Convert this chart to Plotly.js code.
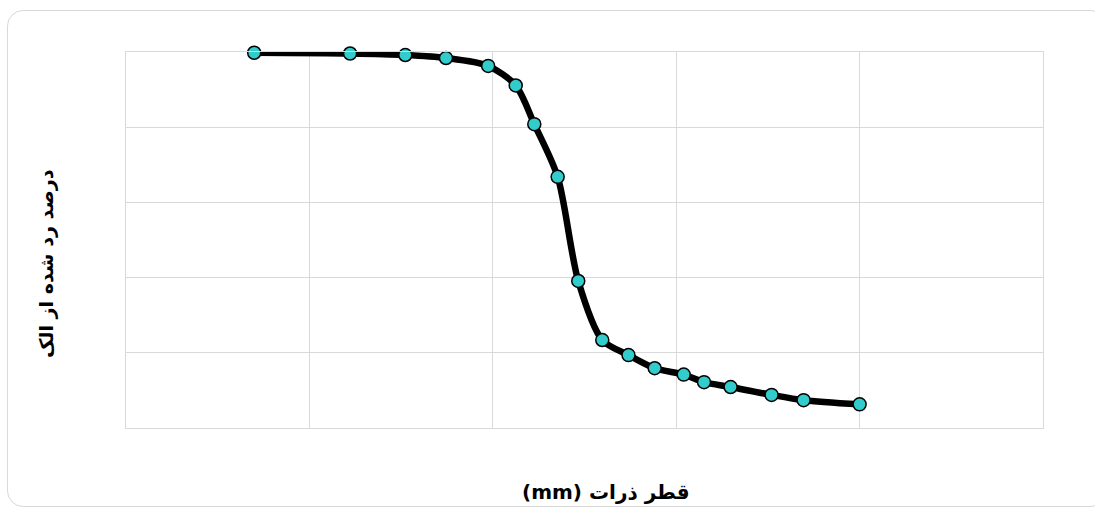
<!DOCTYPE html>
<html>
<head>
<meta charset="utf-8">
<script src="https://cdn.plot.ly/plotly-3.0.1.min.js"></script>
<style>
  html, body { margin: 0; padding: 0; background: #ffffff; }
  #wrap { position: relative; width: 1095px; height: 510px; overflow: hidden; }
  #frame { position: absolute; left: 7px; top: 10px; width: 1100px; height: 497px;
           border: 1px solid #d9d9d9; border-radius: 16px; box-sizing: border-box; pointer-events: none; }
  #chart { position: absolute; left: 0; top: 0; width: 1095px; height: 510px; }
</style>
</head>
<body>
<div id="wrap">
  <div id="frame"></div>
  <div id="chart"></div>
</div>
<script>
// Grain diameter (mm) and percent passing
const diameterMm = [2.0, 0.6, 0.3, 0.18, 0.106, 0.075, 0.0594, 0.0443, 0.0342, 0.0253,
                    0.0182, 0.0131, 0.0091, 0.00705, 0.00505, 0.00302, 0.00202, 0.001];
const percentPassing = [99.8, 99.6, 99.2, 98.4, 96.3, 91.1, 80.8, 66.8, 39.1, 23.4,
                        19.4, 15.9, 14.2, 12.2, 10.9, 8.8, 7.4, 6.3];
const xTitleFa = 'قطر ذرات';
const xTitleUnit = '(mm)';
const yTitle = 'درصد رد شده از الک';

const rtl = s => '\u202B' + s + '\u202C';

const trace = {
  x: diameterMm,
  y: percentPassing,
  type: 'scatter',
  mode: 'lines+markers',
  line: { color: '#000000', width: 6.5, shape: 'spline', smoothing: 0.8 },
  marker: { color: '#33cccc', size: 13, line: { color: '#000000', width: 1.5 } },
  cliponaxis: false,
  hoverinfo: 'x+y'
};

const layout = {
  width: 1095, height: 510,
  margin: { l: 126, r: 52, t: 52, b: 82 },
  paper_bgcolor: 'rgba(0,0,0,0)',
  plot_bgcolor: '#ffffff',
  showlegend: false,
  font: { family: 'DejaVu Sans, Noto Sans, sans-serif', color: '#000000' },
  xaxis: {
    type: 'log',
    range: [1, -4],
    dtick: 1,
    showticklabels: false,
    ticks: '',
    showgrid: true, gridcolor: '#d9d9d9', gridwidth: 1.3,
    showline: true, mirror: true, linecolor: '#d9d9d9', linewidth: 1.3,
    zeroline: false
  },
  yaxis: {
    range: [0, 100],
    dtick: 20,
    showticklabels: false,
    ticks: '',
    showgrid: true, gridcolor: '#d9d9d9', gridwidth: 1.3,
    showline: true, mirror: true, linecolor: '#d9d9d9', linewidth: 1.3,
    zeroline: false
  },
  annotations: [
    {
      xref: 'paper', yref: 'paper', x: 0.5234, y: -0.170,
      xanchor: 'center', yanchor: 'middle', showarrow: false,
      text: '<b>' + rtl(xTitleFa + ' ' + xTitleUnit) + '</b>',
      font: { size: 20, color: '#000000' }
    },
    {
      xref: 'paper', yref: 'paper', x: -0.0872, y: 0.436,
      xanchor: 'center', yanchor: 'middle', showarrow: false, textangle: -90,
      text: '<b>' + rtl(yTitle) + '</b>',
      font: { size: 19, color: '#000000' }
    }
  ]
};

Plotly.newPlot('chart', [trace], layout, { displayModeBar: false, staticPlot: true });
</script>
</body>
</html>
